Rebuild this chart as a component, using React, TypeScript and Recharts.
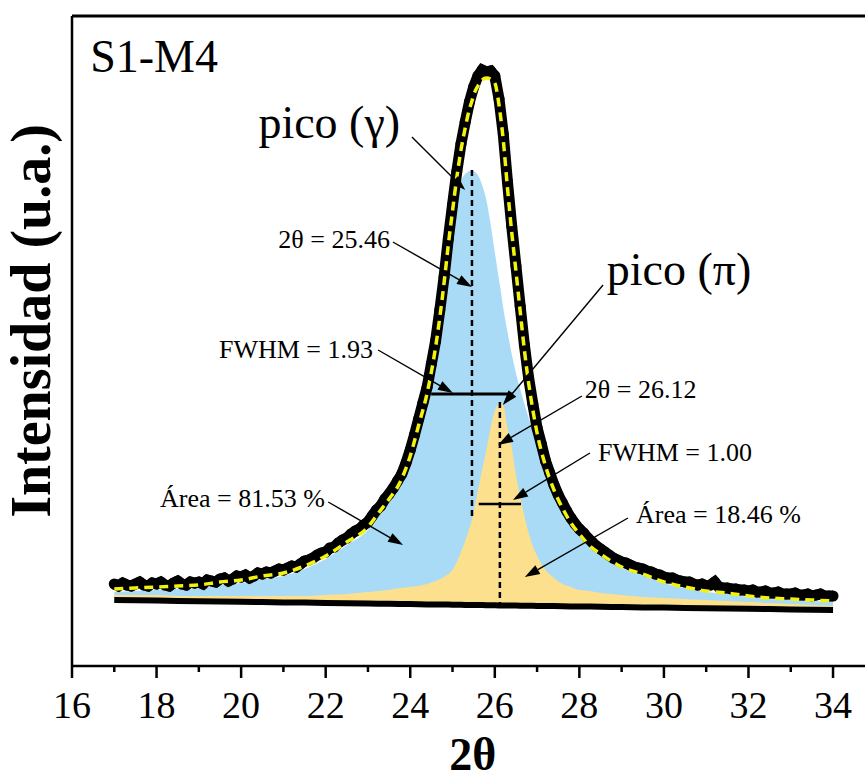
import React from 'react'
import {
  ComposedChart,
  Area,
  Line,
  Scatter,
  XAxis,
  YAxis,
  ReferenceLine,
  ReferenceDot,
} from 'recharts'

// 2θ grid used by the fitted curves
const twoTheta = [
  17, 17.5, 18, 18.5, 19, 19.5, 20, 20.5, 21, 21.5,
  22, 22.5, 23, 23.25, 23.5, 23.75, 24, 24.2, 24.4, 24.6,
  24.8, 24.9, 25, 25.1, 25.2, 25.3, 25.4, 25.46, 25.5, 25.6,
  25.7, 25.8, 25.9, 26, 26.1, 26.12, 26.2, 26.3, 26.4, 26.5,
  26.6, 26.7, 26.8, 26.9, 27, 27.2, 27.4, 27.6, 27.8, 28,
  28.25, 28.5, 28.75, 29, 29.5, 30, 30.5, 31, 31.5, 32,
  32.5, 33, 33.5, 34,
]

// linear background
const baseline = [
  66.0, 65.7, 65.4, 65.1, 64.8, 64.5, 64.2, 63.9, 63.6, 63.4,
  63.1, 62.8, 62.5, 62.3, 62.2, 62.0, 61.9, 61.8, 61.6, 61.5,
  61.4, 61.4, 61.3, 61.2, 61.2, 61.1, 61.1, 61.0, 61.0, 60.9,
  60.9, 60.8, 60.8, 60.7, 60.6, 60.6, 60.6, 60.5, 60.5, 60.4,
  60.3, 60.3, 60.2, 60.2, 60.1, 60.0, 59.9, 59.8, 59.6, 59.5,
  59.4, 59.2, 59.1, 58.9, 58.6, 58.4, 58.1, 57.8, 57.5, 57.2,
  56.9, 56.6, 56.3, 56.0,
]

// cumulative fit
const fitTotal = [
  77, 78, 79, 80, 81, 84, 86, 90, 93, 100,
  110, 124, 139, 153, 167, 183, 210, 241, 273, 319,
  383, 421, 455, 488, 516, 538, 557, 565, 571, 580,
  586, 588, 587, 583, 561, 555, 526, 478, 434, 395,
  355, 316, 283, 256, 233, 200, 176, 158, 143, 132,
  120, 112, 105, 99, 92, 84, 79, 75, 73, 70,
  68, 67, 66, 65,
]

// pico (γ)
const peakGamma = [
  74, 75, 76, 77, 78, 81, 83, 87, 90, 97,
  107, 121, 136, 150, 164, 180, 206, 237, 269, 314,
  376, 412, 446, 472, 485, 492, 495, 496, 495, 491,
  481, 466, 442, 414, 386, 381, 358, 334, 312, 293,
  277, 262, 248, 235, 223, 199, 175, 157, 142, 131,
  119, 111, 104, 98, 91, 83, 78, 74, 72, 69,
  67, 66, 65, 64,
]

// pico (π)
const peakPi = [
  71, 71, 71, 70, 70, 70, 70, 70, 70, 70,
  71, 72, 74, 75, 76, 78, 79, 80, 82, 85,
  89, 92, 96, 104, 114, 125, 138, 146, 154, 175,
  196, 216, 238, 255, 263, 264, 261, 238, 219, 191,
  169, 150, 133, 120, 110, 96, 88, 82, 79, 76,
  75, 73, 72, 71, 69, 68, 67, 66, 65, 64,
  63, 62, 61, 60,
]

// measured pattern, 0.1° steps from 17.0 to 34.0
const obsStart = 17
const obsIntensity = [
  82, 80, 83, 81, 80, 82, 84, 81, 80, 83,
  82, 84, 81, 80, 83, 85, 82, 81, 84, 83,
  84, 82, 86, 85, 84, 87, 88, 85, 87, 90,
  89, 91, 88, 90, 93, 92, 94, 93, 95, 97,
  96, 98, 100, 99, 102, 105, 106, 108, 111, 113,
  114, 118, 119, 123, 126, 128, 132, 135, 137, 141,
  144, 150, 156, 160, 167, 172, 178, 185, 192, 203,
  216, 231, 247, 263, 279, 302, 325, 356, 389, 427,
  461, 494, 522, 544, 564, 579, 590, 596, 594, 595,
  590, 567, 532, 484, 440, 400, 360, 321, 288, 262,
  238, 222, 205, 193, 181, 171, 163, 155, 148, 142,
  137, 133, 128, 124, 120, 117, 114, 111, 108, 106,
  104, 103, 101, 99, 98, 97, 95, 94, 92, 91,
  89, 88, 88, 86, 85, 84, 84, 82, 81, 82,
  80, 81, 84, 79, 78, 78, 77, 77, 76, 76,
  75, 76, 74, 74, 75, 73, 73, 74, 72, 72,
  72, 73, 71, 71, 72, 70, 71, 72, 70, 70,
  70,
]

const xTicks = [16, 17, 18, 19, 20, 21, 22, 23, 24, 25, 26, 27, 28, 29, 30, 31, 32, 33, 34]

const gammaCenter = 25.46
const gammaFwhm = 1.93
const piCenter = 26.12
const piFwhm = 1.0

const curveRows = twoTheta.map((x, i) => ({
  x,
  base: baseline[i],
  fit: fitTotal[i],
  gamma: [baseline[i], peakGamma[i]],
  pi: [baseline[i], peakPi[i]],
}))

const obsRows = obsIntensity.map((obs, i) => ({ x: +(obsStart + i * 0.1).toFixed(1), obs }))

const SERIF = '"Liberation Serif", "Times New Roman", Times, serif'

// callouts: text anchor point and arrow (tail -> tip), in chart units
const notes = [
  { text: 'S1-M4', x: 16.43, y: 594, size: 46, anchor: 'start' },
  { text: 'pico (γ)', x: 23.76, y: 528, size: 46, anchor: 'end' },
  { text: 'pico (π)', x: 28.65, y: 381, size: 46, anchor: 'start' },
  { text: '2θ = 25.46', x: 23.52, y: 418, size: 26, anchor: 'end' },
  { text: 'FWHM = 1.93', x: 23.12, y: 308, size: 26, anchor: 'end' },
  { text: 'Área = 81.53 %', x: 21.98, y: 159, size: 26, anchor: 'end' },
  { text: '2θ = 26.12', x: 28.13, y: 268, size: 26, anchor: 'start' },
  { text: 'FWHM = 1.00', x: 28.44, y: 205, size: 26, anchor: 'start' },
  { text: 'Área = 18.46 %', x: 29.34, y: 143, size: 26, anchor: 'start' },
]

const arrows = [
  { from: [24.04, 529], to: [25.3, 476] },
  { from: [23.59, 424], to: [25.46, 379] },
  { from: [23.24, 316], to: [25.01, 273] },
  { from: [22.06, 164], to: [23.83, 121] },
  { from: [28.56, 381], to: [26.19, 261] },
  { from: [28.06, 270], to: [26.08, 221] },
  { from: [28.25, 213], to: [26.43, 166] },
  { from: [29.15, 148], to: [26.71, 89] },
]

function AxisTick(props: any) {
  const { x, y, payload } = props
  const v = payload.value
  const major = v % 2 === 0
  return (
    <g>
      <line x1={x} x2={x} y1={y} y2={y + (major ? 12 : 6)} stroke="#000" strokeWidth={2.5} />
      {major && (
        <text x={x} y={y + 52} textAnchor="middle" fontFamily={SERIF} fontSize={38} fill="#000">
          {v}
        </text>
      )}
    </g>
  )
}

function Arrow(props: any) {
  const { x1, y1, x2, y2 } = props
  const dx = x2 - x1
  const dy = y2 - y1
  const len = Math.hypot(dx, dy) || 1
  const ux = dx / len
  const uy = dy / len
  const hl = 15
  const hw = 5
  const bx = x2 - ux * hl
  const by = y2 - uy * hl
  return (
    <g>
      <line x1={x1} y1={y1} x2={bx} y2={by} stroke="#000" strokeWidth={1.4} />
      <polygon
        points={`${x2},${y2} ${bx - uy * hw},${by + ux * hw} ${bx + uy * hw},${by - ux * hw}`}
        fill="#000"
      />
    </g>
  )
}

export default function App() {
  return (
    <div style={{ position: 'absolute', left: 0, top: 0, width: 865, height: 783, background: '#fff' }}>
      <ComposedChart
        width={865}
        height={783}
        data={curveRows}
        margin={{ top: 16, right: 0, left: 72, bottom: 77 }}
      >
        <XAxis
          type="number"
          dataKey="x"
          domain={[16, 34.756]}
          ticks={xTicks}
          interval={0}
          allowDataOverflow
          tickSize={0}
          tickMargin={0}
          tickLine={false}
          tick={(p: any) => <AxisTick {...p} />}
          axisLine={{ stroke: '#000', strokeWidth: 2.5 }}
          height={40}
        />
        <YAxis type="number" domain={[0, 650]} allowDataOverflow hide width={0} />

        <Area
          type="monotone"
          dataKey="gamma"
          fill="#a9dbf6"
          fillOpacity={1}
          stroke="none"
          isAnimationActive={false}
        />
        <Area
          type="monotone"
          dataKey="pi"
          fill="#fce08e"
          fillOpacity={1}
          stroke="none"
          isAnimationActive={false}
        />
        <Line
          type="linear"
          dataKey="base"
          stroke="#000"
          strokeWidth={6}
          dot={false}
          isAnimationActive={false}
        />
        <Scatter
          data={obsRows}
          dataKey="obs"
          fill="#000"
          line={{ stroke: '#000', strokeWidth: 11 }}
          shape={(p: any) => <circle cx={p.cx} cy={p.cy} r={5.5} fill="#000" />}
          isAnimationActive={false}
          zIndex={600}
        />
        <Line
          type="monotone"
          dataKey="fit"
          stroke="#f2f20c"
          strokeWidth={3.5}
          strokeDasharray="9 6"
          dot={false}
          isAnimationActive={false}
          zIndex={700}
        />

        {/* peak positions and half widths */}
        <ReferenceLine
          segment={[{ x: gammaCenter, y: 496 }, { x: gammaCenter, y: 150 }]}
          stroke="#000"
          strokeWidth={2.5}
          strokeDasharray="6 4"
          zIndex={800}
        />
        <ReferenceLine
          segment={[{ x: piCenter, y: 264 }, { x: piCenter, y: 60.6 }]}
          stroke="#000"
          strokeWidth={2.5}
          strokeDasharray="6 4"
          zIndex={800}
        />
        <ReferenceLine
          segment={[
            { x: gammaCenter - gammaFwhm / 2, y: 272 },
            { x: gammaCenter + gammaFwhm / 2, y: 272 },
          ]}
          stroke="#000"
          strokeWidth={2.8}
          zIndex={800}
        />
        <ReferenceLine
          segment={[
            { x: piCenter - piFwhm / 2, y: 162 },
            { x: piCenter + piFwhm / 2, y: 162 },
          ]}
          stroke="#000"
          strokeWidth={2.5}
          zIndex={800}
        />

        {arrows.map((a, i) => (
          <ReferenceLine
            key={`arrow-${i}`}
            segment={[{ x: a.from[0], y: a.from[1] }, { x: a.to[0], y: a.to[1] }]}
            shape={(p: any) => <Arrow {...p} />}
            zIndex={900}
          />
        ))}

        {notes.map((n) => (
          <ReferenceDot
            key={n.text}
            x={n.x}
            y={n.y}
            ifOverflow="visible"
            zIndex={900}
            shape={(p: any) => (
              <text
                x={p.cx}
                y={p.cy}
                textAnchor={n.anchor}
                fontFamily={SERIF}
                fontSize={n.size}
                fill="#000"
              >
                {n.text}
              </text>
            )}
          />
        ))}

        {/* frame */}
        <ReferenceLine y={650} stroke="#000" strokeWidth={3} ifOverflow="visible" />
        <ReferenceLine x={16} stroke="#000" strokeWidth={2.5} ifOverflow="visible" />

        {/* axis titles */}
        <ReferenceDot
          x={25.48}
          y={-104}
          ifOverflow="visible"
          shape={(p: any) => (
            <text x={p.cx} y={p.cy} textAnchor="middle" fontFamily={SERIF} fontWeight="bold" fontSize={46} fill="#000">
              2θ
            </text>
          )}
        />
        <ReferenceDot
          x={15.48}
          y={345}
          ifOverflow="visible"
          shape={(p: any) => (
            <text
              x={p.cx}
              y={p.cy}
              transform={`rotate(-90 ${p.cx} ${p.cy})`}
              textAnchor="middle"
              fontFamily={SERIF}
              fontWeight="bold"
              fontSize={56}
              fill="#000"
            >
              Intensidad (u.a.)
            </text>
          )}
        />
      </ComposedChart>
    </div>
  )
}
